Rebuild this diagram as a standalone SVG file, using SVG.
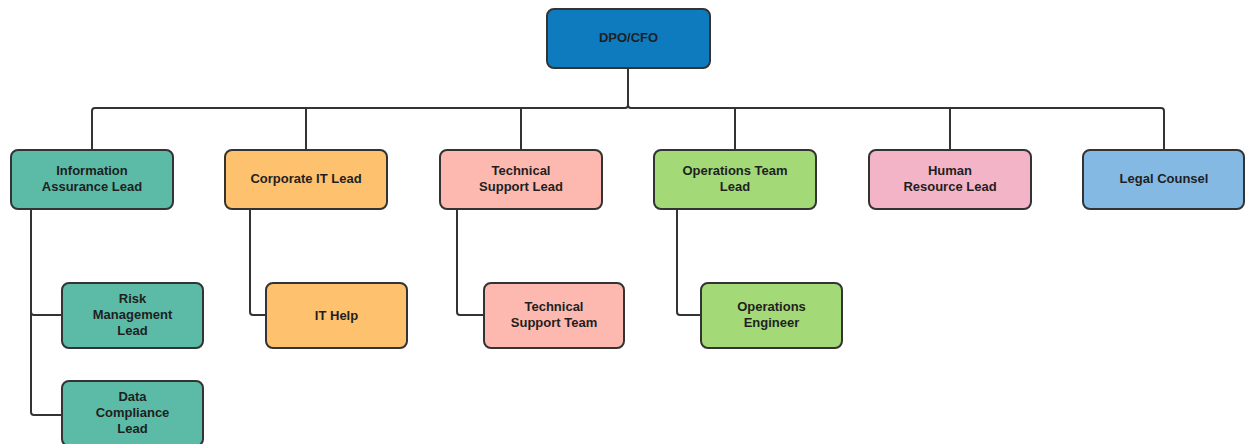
<svg xmlns="http://www.w3.org/2000/svg" width="1245" height="444" viewBox="0 0 1245 444">
  <style>
    .box { stroke: #333333; stroke-width: 2; }
    .lbl { font-family: "Liberation Sans", Arial, sans-serif; font-weight: bold; font-size: 13px; fill: #1f1f1f; text-anchor: middle; }
    .wire { fill: none; stroke: #333333; stroke-width: 2; stroke-linejoin: round; }
    .blue-dark { fill: #0f7bbf; }
    .teal { fill: #5bbba6; }
    .orange { fill: #fec26f; }
    .salmon { fill: #fdb9b0; }
    .green { fill: #a3d977; }
    .pink { fill: #f4b4c8; }
    .blue-light { fill: #84b9e3; }
  </style>
  <rect width="1245" height="444" fill="#ffffff"/>

  <!-- connectors -->
  <g id="connectors">
    <path class="wire" d="M628,68 V105 Q628,108 631,108 H1161 Q1164,108 1164,111 V150"/>
    <path class="wire" d="M628,105 Q628,108 625,108 H95 Q92,108 92,111 V150"/>
    <path class="wire" d="M306,108 V150"/>
    <path class="wire" d="M521,108 V150"/>
    <path class="wire" d="M735,108 V150"/>
    <path class="wire" d="M950,108 V150"/>
    <path class="wire" d="M31,209 V412 Q31,415 34,415 H62"/>
    <path class="wire" d="M31,312 Q31,315 34,315 H62"/>
    <path class="wire" d="M250,209 V312 Q250,315 253,315 H266"/>
    <path class="wire" d="M457,209 V312 Q457,315 460,315 H484"/>
    <path class="wire" d="M677,209 V312 Q677,315 680,315 H701"/>
  </g>

  <g id="dpo-cfo">
    <rect class="box blue-dark" x="547" y="9" width="163" height="59" rx="7"/>
    <text class="lbl" x="628.5" y="41.5">DPO/CFO</text>
  </g>

  <g id="information-assurance-lead">
    <rect class="box teal" x="11" y="150" width="162" height="59" rx="7"/>
    <text class="lbl" x="92" y="174.5">Information</text>
    <text class="lbl" x="92" y="190.5">Assurance Lead</text>
  </g>

  <g id="corporate-it-lead">
    <rect class="box orange" x="225" y="150" width="162" height="59" rx="7"/>
    <text class="lbl" x="306" y="182.5">Corporate IT Lead</text>
  </g>

  <g id="technical-support-lead">
    <rect class="box salmon" x="440" y="150" width="162" height="59" rx="7"/>
    <text class="lbl" x="521" y="174.5">Technical</text>
    <text class="lbl" x="521" y="190.5">Support Lead</text>
  </g>

  <g id="operations-team-lead">
    <rect class="box green" x="654" y="150" width="162" height="59" rx="7"/>
    <text class="lbl" x="735" y="174.5">Operations Team</text>
    <text class="lbl" x="735" y="190.5">Lead</text>
  </g>

  <g id="human-resource-lead">
    <rect class="box pink" x="869" y="150" width="162" height="59" rx="7"/>
    <text class="lbl" x="950" y="174.5">Human</text>
    <text class="lbl" x="950" y="190.5">Resource Lead</text>
  </g>

  <g id="legal-counsel">
    <rect class="box blue-light" x="1083" y="150" width="161" height="59" rx="7"/>
    <text class="lbl" x="1164" y="182.5">Legal Counsel</text>
  </g>

  <g id="risk-management-lead">
    <rect class="box teal" x="62" y="283" width="141" height="65" rx="7"/>
    <text class="lbl" x="132.5" y="302.5">Risk</text>
    <text class="lbl" x="132.5" y="318.5">Management</text>
    <text class="lbl" x="132.5" y="334.5">Lead</text>
  </g>

  <g id="data-compliance-lead">
    <rect class="box teal" x="62" y="381" width="141" height="65" rx="7"/>
    <text class="lbl" x="132.5" y="400.5">Data</text>
    <text class="lbl" x="132.5" y="416.5">Compliance</text>
    <text class="lbl" x="132.5" y="432.5">Lead</text>
  </g>

  <g id="it-help">
    <rect class="box orange" x="266" y="283" width="141" height="65" rx="7"/>
    <text class="lbl" x="336.5" y="319.5">IT Help</text>
  </g>

  <g id="technical-support-team">
    <rect class="box salmon" x="484" y="283" width="140" height="65" rx="7"/>
    <text class="lbl" x="554" y="310.5">Technical</text>
    <text class="lbl" x="554" y="326.5">Support Team</text>
  </g>

  <g id="operations-engineer">
    <rect class="box green" x="701" y="283" width="141" height="65" rx="7"/>
    <text class="lbl" x="771.5" y="310.5">Operations</text>
    <text class="lbl" x="771.5" y="326.5">Engineer</text>
  </g>
</svg>
